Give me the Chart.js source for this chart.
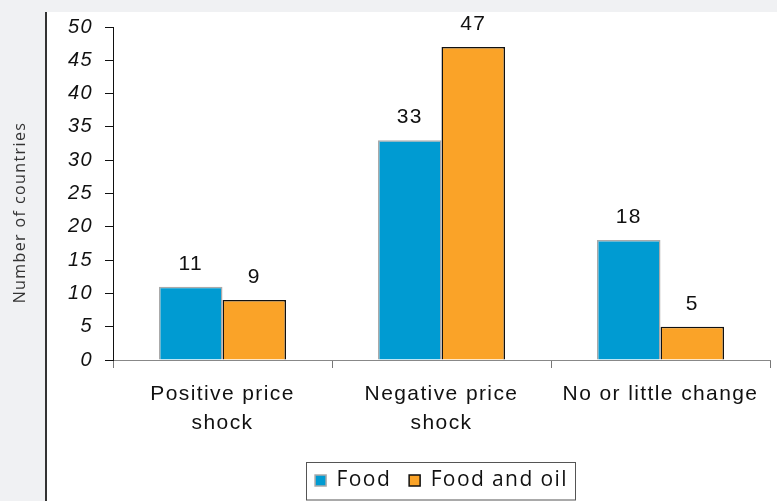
<!DOCTYPE html>
<html>
<head>
<meta charset="utf-8">
<script src="https://cdn.jsdelivr.net/npm/chart.js@4/dist/chart.umd.min.js"></script>
<style>
  html, body { margin: 0; padding: 0; background: #f0f1f3; }
  #wrap { width: 777px; height: 501px; }
</style>
</head>
<body>
<div id="wrap"><canvas id="chart"></canvas></div>
<script>
  // data
  const categories = [["Positive price", "shock"], ["Negative price", "shock"], "No or little change"];
  const foodValues = [11, 33, 18];
  const foodOilValues = [9, 47, 5];
  const seriesNames = ["Food", "Food and oil"];
  const yTitle = "Number of countries";

  const SANS = "'Liberation Sans', Arial, sans-serif";

  // a bit of tracking, the original text is set wide
  const spacing = {
    id: "spacing",
    beforeLayout(chart) { chart.ctx.letterSpacing = "1.4px"; },
    beforeDraw(chart) { chart.ctx.letterSpacing = "1.4px"; },
  };

  // grey page, white panel with a dark rule on its left, axis title in the margin
  const panel = {
    id: "panel",
    beforeDraw(chart) {
      const { ctx, width, height, chartArea } = chart;
      ctx.save();
      ctx.fillStyle = "#f0f1f3";
      ctx.fillRect(0, 0, width, height);
      ctx.fillStyle = "#ffffff";
      ctx.fillRect(47, 12, width - 47, height - 12);
      ctx.fillStyle = "#333333";
      ctx.fillRect(45, 12, 2, height - 12);
      ctx.translate(20, (chartArea.top + chartArea.bottom) / 2 + 19);
      ctx.rotate(-Math.PI / 2);
      ctx.font = "16px 'Open Sans', sans-serif";
      ctx.fillStyle = "#333333";
      ctx.textAlign = "center";
      ctx.textBaseline = "middle";
      ctx.fillText(yTitle, 0, 0);
      ctx.restore();
    },
  };

  // values above the bars
  const barValues = {
    id: "barValues",
    afterDatasetsDraw(chart) {
      const { ctx } = chart;
      ctx.save();
      ctx.font = "21px " + SANS;
      ctx.fillStyle = "#111111";
      ctx.textAlign = "center";
      ctx.textBaseline = "alphabetic";
      chart.data.datasets.forEach((ds, i) => {
        chart.getDatasetMeta(i).data.forEach((bar, j) => {
          ctx.fillText(String(ds.data[j]), bar.x, bar.y - 17);
        });
      });
      ctx.restore();
    },
  };

  // frame round the legend items
  const legendFrame = {
    id: "legendFrame",
    afterDraw(chart) {
      const lg = chart.legend;
      if (!lg || !lg.legendHitBoxes || !lg.legendHitBoxes.length) return;
      const boxes = lg.legendHitBoxes;
      const l = Math.min(...boxes.map((b) => b.left)) - 9;
      const r = Math.max(...boxes.map((b) => b.left + b.width)) + 7;
      const top = lg.top + 10;
      const { ctx } = chart;
      ctx.save();
      ctx.strokeStyle = "#555555";
      ctx.lineWidth = 1;
      ctx.strokeRect(Math.round(l) + 0.5, Math.round(top) + 0.5, Math.round(r - l), chart.height - Math.round(top) - 1.5);
      ctx.restore();
    },
  };

  new Chart(document.getElementById("chart"), {
    type: "bar",
    data: {
      labels: categories,
      datasets: [
        { label: seriesNames[0], data: foodValues, backgroundColor: "#009bd2",
          borderColor: "#aaaaaa", borderWidth: 1.5 },
        { label: seriesNames[1], data: foodOilValues, backgroundColor: "#faa328",
          borderColor: "#111111", borderWidth: 1.5 },
      ],
    },
    options: {
      responsive: true,
      maintainAspectRatio: false,
      animation: false,
      devicePixelRatio: 1,
      layout: { padding: { left: 0, right: 7, top: 27, bottom: 0 } },
      datasets: { bar: { categoryPercentage: 0.58, barPercentage: 1 } },
      plugins: {
        tooltip: { enabled: false },
        legend: {
          position: "bottom",
          fullSize: false,
          labels: {
            color: "#111111",
            font: { family: "'Open Sans', sans-serif", size: 21 },
            boxWidth: 11, boxHeight: 11, padding: 18,
          },
        },
      },
      scales: {
        x: {
          grid: { display: true, drawOnChartArea: false, offset: true, tickLength: 8,
            color: "#777777", lineWidth: 1 },
          border: { color: "#888888", width: 1 },
          ticks: { color: "#111111", padding: 12, maxRotation: 0, autoSkip: false,
            font: { family: SANS, size: 21, lineHeight: 1.38 } },
          afterFit(scale) { scale.height = 92; },
        },
        y: {
          min: 0, max: 50,
          grid: { display: true, drawOnChartArea: false, tickLength: 8, color: "#111111" },
          border: { color: "#111111", width: 1 },
          ticks: { stepSize: 5, color: "#111111", padding: 12,
            font: { family: SANS, size: 20, style: "italic" } },
          afterFit(scale) { scale.width = 113; },
        },
      },
    },
    plugins: [spacing, panel, barValues, legendFrame],
  });
</script>
</body>
</html>
